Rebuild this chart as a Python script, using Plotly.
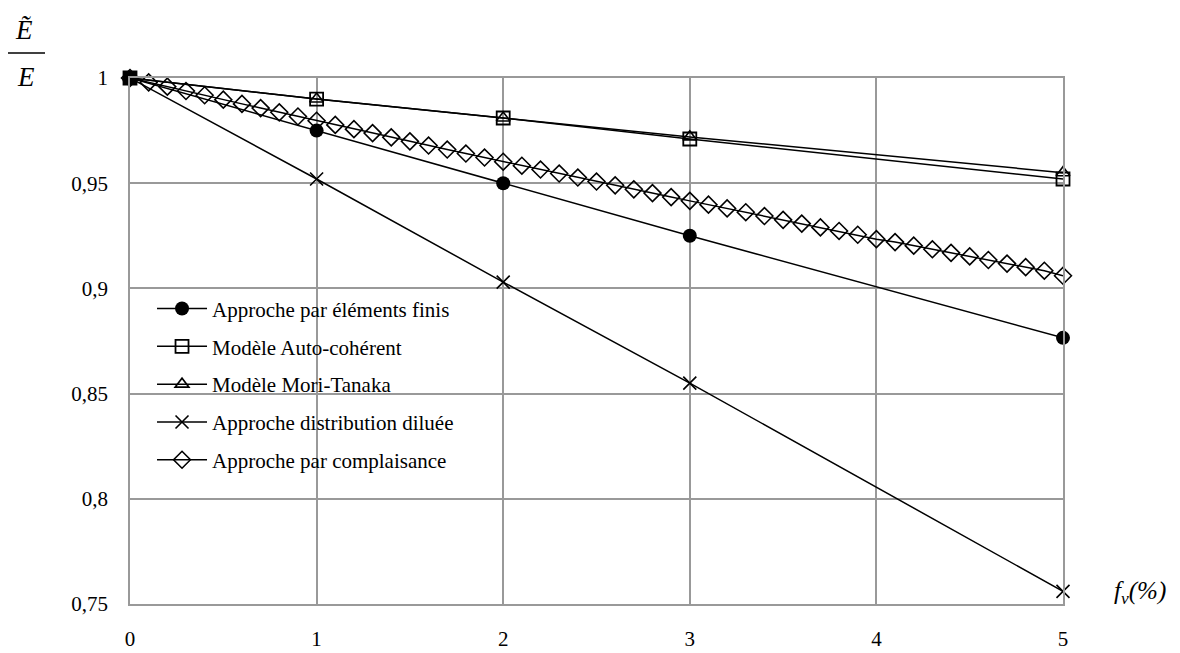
import plotly.graph_objects as go

# Data
x_int = [0, 1, 2, 3, 5]
fem = [1.0, 0.975, 0.950, 0.925, 0.8765]
auto_coherent = [1.0, 0.990, 0.981, 0.971, 0.952]
mori_tanaka = [1.0, 0.990, 0.981, 0.972, 0.955]
dilute = [1.0, 0.952, 0.903, 0.855, 0.756]

x_compl = [i / 10 for i in range(51)]
compliance = [1.0000, 0.9979, 0.9959, 0.9938, 0.9918, 0.9897, 0.9877, 0.9857, 0.9837, 0.9817,
              0.9797, 0.9777, 0.9757, 0.9738, 0.9718, 0.9699, 0.9679, 0.9660, 0.9641, 0.9622,
              0.9602, 0.9583, 0.9565, 0.9546, 0.9527, 0.9508, 0.9490, 0.9471, 0.9453, 0.9434,
              0.9416, 0.9398, 0.9380, 0.9362, 0.9344, 0.9326, 0.9308, 0.9290, 0.9273, 0.9255,
              0.9234, 0.9220, 0.9203, 0.9186, 0.9169, 0.9152, 0.9135, 0.9118, 0.9101, 0.9084,
              0.9060]

names = ["Approche par éléments finis", "Modèle Auto-cohérent", "Modèle Mori-Tanaka",
         "Approche distribution diluée", "Approche par complaisance"]

y_tickvals = [0.75, 0.8, 0.85, 0.9, 0.95, 1.0]
y_ticktext = ["0,75", "0,8", "0,85", "0,9", "0,95", "1"]
x_tickvals = [0, 1, 2, 3, 4, 5]

FONT = "Liberation Serif, Times New Roman, serif"
line = dict(color="black", width=1.5)

fig = go.Figure()
fig.add_trace(go.Scatter(x=x_int, y=fem, name=names[0], mode="lines+markers", line=line,
                         legendgroup="a", cliponaxis=False,
                         marker=dict(symbol="circle", size=14, color="black")))
fig.add_trace(go.Scatter(x=x_int, y=auto_coherent, name=names[1], mode="lines+markers", line=line,
                         legendgroup="b", cliponaxis=False,
                         marker=dict(symbol="square-open", size=13, color="black",
                                     line=dict(width=1.8, color="black"))))
fig.add_trace(go.Scatter(x=x_int, y=mori_tanaka, name=names[2], mode="lines+markers", line=line,
                         legendgroup="c", cliponaxis=False,
                         marker=dict(symbol="triangle-up-open", size=12, color="black", line=dict(width=1.6))))
fig.add_trace(go.Scatter(x=x_int, y=dilute, name=names[3], mode="lines+markers", line=line,
                         legendgroup="d", cliponaxis=False,
                         marker=dict(symbol="x-thin-open", size=13, color="black", line=dict(width=1.6, color="black"))))
fig.add_trace(go.Scatter(x=x_compl, y=compliance, name=names[4], mode="lines+markers", line=line,
                         legendgroup="e", cliponaxis=False,
                         marker=dict(symbol="diamond-open", size=13, color="black", line=dict(width=1.6))))
# Overlapping markers at the origin appear as a solid black square
fig.add_trace(go.Scatter(x=x_int[:1], y=auto_coherent[:1], mode="markers", showlegend=False,
                         cliponaxis=False, hoverinfo="skip",
                         marker=dict(symbol="square", size=14, color="black")))

grid = "#999999"
L, R, T, B = 130, 117, 78, 49
pw, ph = 1180 - L - R, 653 - T - B


def px2paper(px, py):
    return (px - L) / pw, 1 - (py - T) / ph


ann = []
for txt, px, py, size in [("<i>Ẽ</i>", 24, 30, 27), ("<i>E</i>", 26, 77, 27),
                          ("<i>f<sub>v</sub>(%)</i>", 1140, 592, 25)]:
    ax, ay = px2paper(px, py)
    ann.append(dict(text=txt, x=ax, y=ay, xref="paper", yref="paper", showarrow=False,
                    xanchor="center", yanchor="middle", font=dict(family=FONT, size=size)))

fig.update_layout(
    width=1180, height=653,
    margin=dict(l=L, r=R, t=T, b=B, autoexpand=False),
    paper_bgcolor="white", plot_bgcolor="white",
    font=dict(family=FONT, size=21, color="black"),
    showlegend=True,
    legend=dict(x=0.0236, y=0.6, xanchor="left", yanchor="top", bgcolor="rgba(0,0,0,0)",
                font=dict(family=FONT, size=21), tracegroupgap=7.5, itemwidth=50),
    xaxis=dict(range=[0, 5], tickvals=x_tickvals, showgrid=True, gridcolor=grid, gridwidth=1.5,
               showline=True, linecolor=grid, linewidth=1.5, mirror=True, zeroline=False,
               automargin=False,
               ticks="", ticklabelstandoff=15, tickfont=dict(family=FONT, size=21)),
    yaxis=dict(range=[0.75, 1.0], tickvals=y_tickvals, ticktext=y_ticktext, showgrid=True,
               gridcolor=grid, gridwidth=1.5, showline=True, linecolor=grid, linewidth=1.5,
               mirror=True, zeroline=False, ticks="", ticklabelstandoff=16, automargin=False,
               tickfont=dict(family=FONT, size=21)),
    annotations=ann,
)

x0, y0 = px2paper(8, 53)
x1, _ = px2paper(45, 53)
fig.add_shape(type="line", xref="paper", yref="paper", x0=x0, x1=x1, y0=y0, y1=y0,
              line=dict(color="black", width=1.5))

fig.write_html("out.html")
